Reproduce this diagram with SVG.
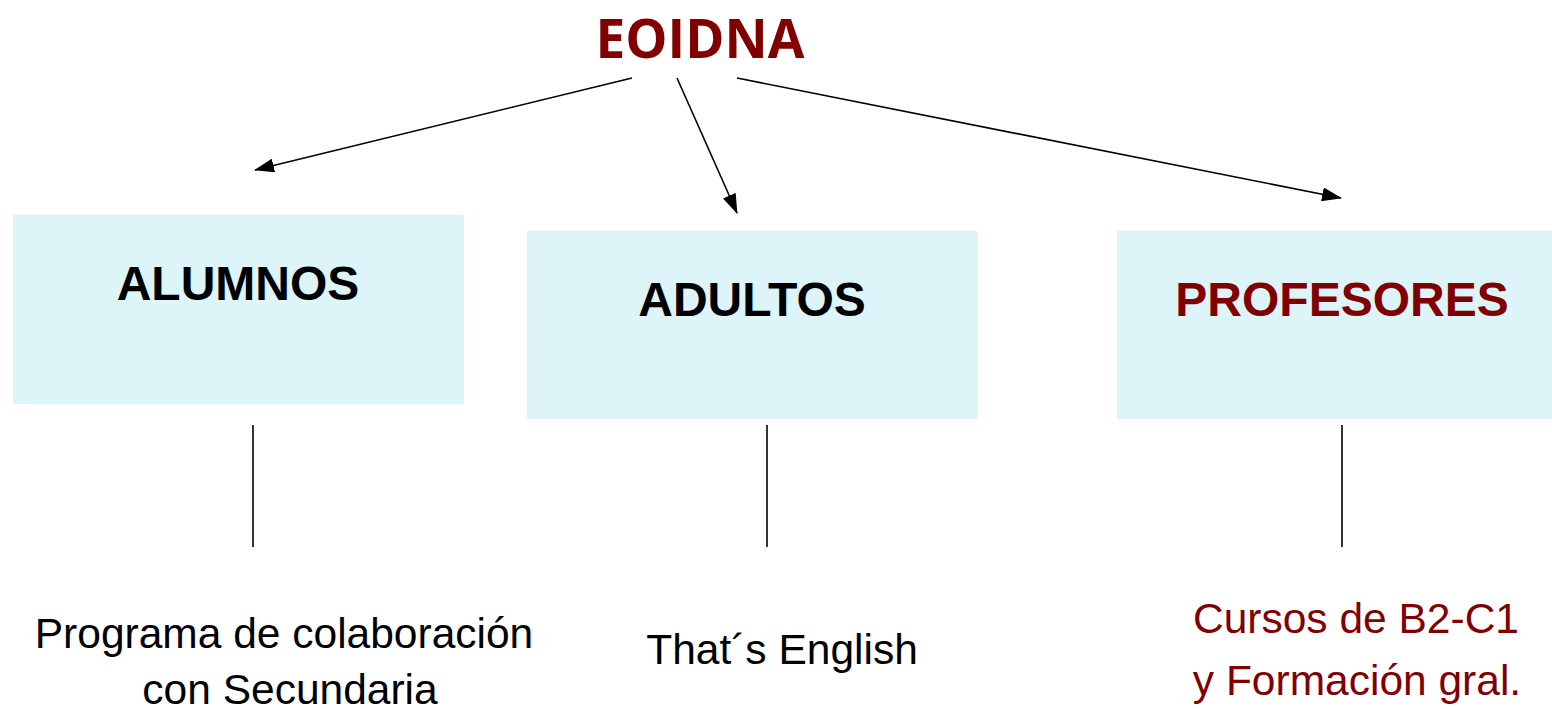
<svg xmlns="http://www.w3.org/2000/svg" width="1552" height="709" viewBox="0 0 1552 709">
<defs>
<style>
.box{fill:#DDF4F9;}
.head{font-family:"Liberation Sans",Arial,sans-serif;font-weight:bold;font-size:48px;text-anchor:middle;}
.body{font-family:"Liberation Sans",Arial,sans-serif;font-size:42.5px;text-anchor:middle;}
.red{fill:#800000;}
.blk{fill:#000000;}
.ln{stroke:#000;stroke-width:1.6;fill:none;}
</style>
<marker id="ah" viewBox="0 0 20 14" refX="19" refY="7" markerWidth="20" markerHeight="14" orient="auto" markerUnits="userSpaceOnUse">
<path d="M0,0 L20,7 L0,14 z" fill="#000"/>
</marker>
</defs>
<rect width="1552" height="709" fill="#fff"/>
<g id="title">
<text x="700" y="58" font-family="'Open Sans','Noto Sans',sans-serif" font-weight="bold" font-size="54" text-anchor="middle" class="red" textLength="209" lengthAdjust="spacingAndGlyphs">EOIDNA</text>
</g>
<g id="alumnos">
<rect class="box" x="13" y="215" width="451" height="189"/>
<text class="head blk" x="238" y="300">ALUMNOS</text>
</g>
<g id="adultos">
<rect class="box" x="527" y="231" width="451" height="188"/>
<text class="head blk" x="752" y="316">ADULTOS</text>
</g>
<g id="profesores">
<rect class="box" x="1117" y="231" width="435" height="188"/>
<text class="head red" x="1342" y="316">PROFESORES</text>
</g>
<g id="alumnos-desc">
<text class="body blk" x="284" y="648">Programa de colaboración</text>
<text class="body blk" x="290" y="704">con Secundaria</text>
</g>
<g id="adultos-desc">
<text class="body blk" x="782" y="664">That´s English</text>
</g>
<g id="profesores-desc">
<text class="body red" x="1356" y="633">Cursos de B2-C1</text>
<text class="body red" x="1357" y="695">y Formación gral.</text>
</g>
<g id="connectors">
<line class="ln" x1="632" y1="78" x2="255" y2="170" marker-end="url(#ah)"/>
<line class="ln" x1="677" y1="78" x2="737" y2="213" marker-end="url(#ah)"/>
<line class="ln" x1="737" y1="78" x2="1341" y2="198" marker-end="url(#ah)"/>
<line class="ln" x1="253" y1="425" x2="253" y2="547"/>
<line class="ln" x1="767" y1="425" x2="767" y2="547"/>
<line class="ln" x1="1342" y1="425" x2="1342" y2="547"/>
</g>
</svg>
